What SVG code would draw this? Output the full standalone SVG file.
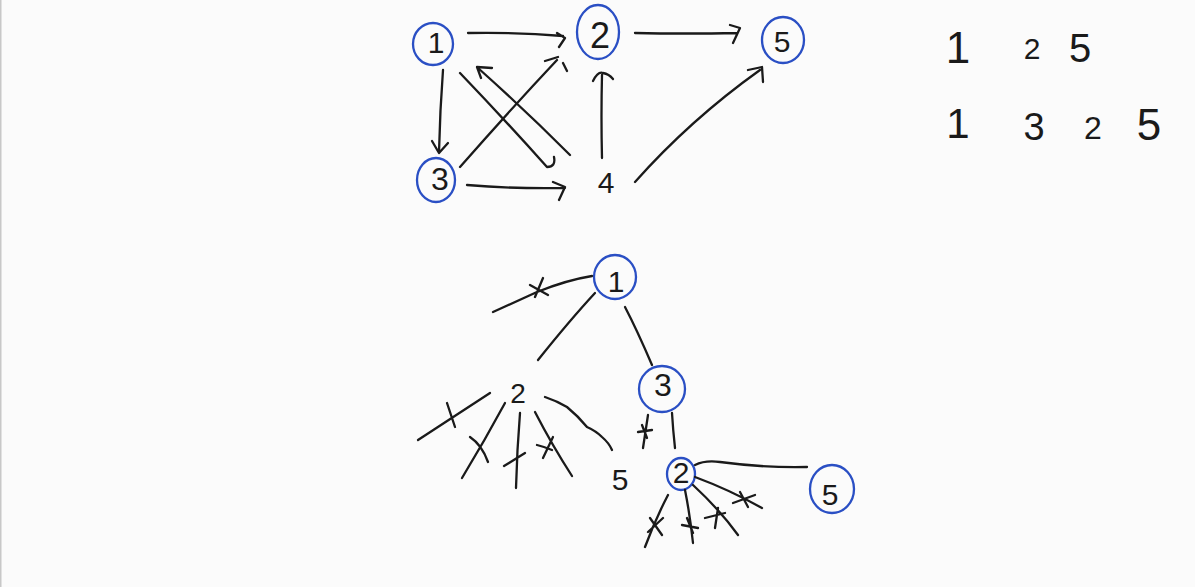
<svg xmlns="http://www.w3.org/2000/svg" width="1195" height="587" viewBox="0 0 1195 587">
<style>
.ink{fill:none;stroke:#1a1a1a;stroke-width:2.3;stroke-linecap:round;stroke-linejoin:round}
.ring{fill:none;stroke:#2a4fc4;stroke-width:2.3}
.t{font-family:"Liberation Sans",Arial,sans-serif;fill:#1a1a1a;text-anchor:middle}
</style>
<rect x="0" y="0" width="1195" height="587" fill="#fbfbfb"/>
<rect x="0" y="0" width="1.5" height="587" fill="#c8c8c8"/>

<!-- top graph nodes -->
<g id="g-n1"><ellipse class="ring" cx="433" cy="44" rx="20" ry="21"/><text class="t" x="436" y="53" font-size="30">1</text></g>
<g id="g-n2"><ellipse class="ring" cx="598" cy="32" rx="21" ry="27"/><text class="t" x="600" y="48" font-size="36">2</text></g>
<g id="g-n5"><ellipse class="ring" cx="783" cy="40" rx="21" ry="23"/><text class="t" x="782" y="52" font-size="30">5</text></g>
<g id="g-n3"><ellipse class="ring" cx="436" cy="180" rx="19" ry="22"/><text class="t" x="440" y="190" font-size="32">3</text></g>
<g id="g-n4"><text class="t" x="606" y="193" font-size="30">4</text></g>

<!-- path lists -->
<g id="paths">
<text class="t" x="958" y="63" font-size="44">1</text>
<text class="t" x="1032" y="59" font-size="30">2</text>
<text class="t" x="1080" y="62" font-size="40">5</text>
<text class="t" x="958" y="138" font-size="42">1</text>
<text class="t" x="1034" y="140" font-size="38">3</text>
<text class="t" x="1093" y="139" font-size="32">2</text>
<text class="t" x="1149" y="140" font-size="44">5</text>
</g>

<!-- tree nodes -->
<g id="t-1"><ellipse class="ring" cx="615" cy="277" rx="21" ry="22"/><text class="t" x="616" y="292" font-size="30">1</text></g>
<g id="t-2a"><text class="t" x="518" y="403" font-size="28">2</text></g>
<g id="t-3"><ellipse class="ring" cx="662" cy="389" rx="23" ry="23"/><text class="t" x="663" y="396" font-size="32">3</text></g>
<g id="t-5a"><text class="t" x="620" y="490" font-size="30">5</text></g>
<g id="t-2b"><ellipse class="ring" cx="681" cy="474" rx="14" ry="16"/><text class="t" x="681" y="483" font-size="30">2</text></g>
<g id="t-5b"><ellipse class="ring" cx="832" cy="489" rx="22" ry="24"/><text class="t" x="830" y="505" font-size="30">5</text></g>

<g id="connectors" class="ink">
<!-- top graph -->
<path d="M468,33 Q515,32 563,36 M557,33 L565,38 L559,47"/>
<path d="M635,33 Q685,34 737,33 M730,25 L740,28 L733,43"/>
<path d="M443,70 Q440,110 439,152 M432,141 L439,153 L448,143"/>
<path d="M467,185 Q515,189 565,188 M553,182 L565,187 L559,200"/>
<path d="M460,73 Q505,120 547,167 Q556,167 554,157"/>
<path d="M570,155 Q525,110 478,68 M492,68 L477,67 L481,78"/>
<path d="M460,167 Q510,110 557,60 M545,61 L558,57 M563,63 L567,71"/>
<path d="M602,158 Q601,115 602,75 M593,81 Q598,71 603,73 Q609,74 613,79"/>
<path d="M635,182 Q690,120 760,70 M748,70 L762,67 L763,82"/>
<!-- tree -->
<path d="M592,276 Q567,280 537,292 Q515,302 493,312 M530,285 L548,295 M543,278 L535,297"/>
<path d="M595,293 Q570,320 538,360"/>
<path d="M625,307 Q637,330 652,365"/>
<path d="M490,393 L418,440 M447,403 L455,427"/>
<path d="M505,403 Q485,440 462,478 M470,437 Q482,445 488,462"/>
<path d="M520,413 Q517,450 516,488 M504,466 L525,453"/>
<path d="M535,412 Q552,445 572,476 M537,445 Q545,447 552,450 M543,458 L553,437"/>
<path d="M545,397 Q557,401 567,407 Q578,416 587,427 Q596,431 602,437 Q609,443 612,450"/>
<path d="M648,415 L643,448 M638,432 L652,430 M642,425 L647,438"/>
<path d="M672,413 Q673,430 675,448"/>
<path d="M695,465 Q705,460 720,462 Q765,468 807,467"/>
<path d="M695,477 Q730,490 762,508 M733,503 L755,495 M740,492 L748,507"/>
<path d="M693,485 Q720,510 738,535 M705,518 L725,513 M718,508 L715,528"/>
<path d="M685,490 Q690,515 693,543 M682,525 L698,528 M687,518 L693,533"/>
<path d="M668,495 Q655,520 645,547 M650,518 L662,535 M648,532 L663,518"/>
</g>
</svg>
